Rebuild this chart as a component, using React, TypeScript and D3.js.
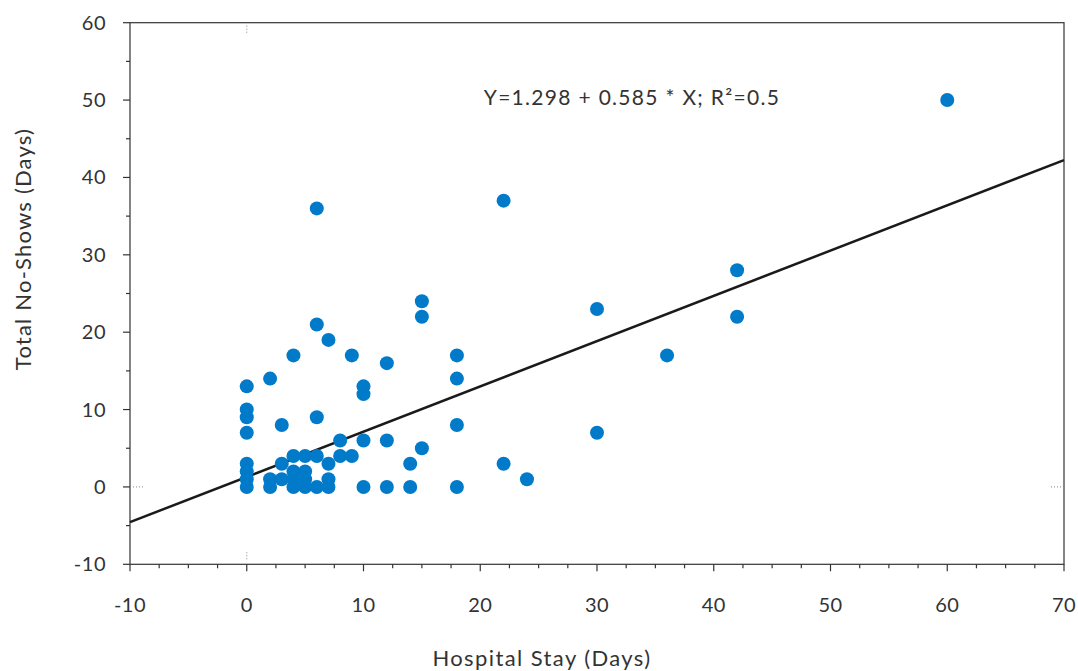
import React from "react";
import * as d3 from "d3";

const stayDays: number[] = [
  0, 0, 0, 0, 0, 0, 0, 0,
  2, 2, 2,
  3, 3, 3,
  4, 4, 4, 4, 4,
  5, 5, 5, 5,
  6, 6, 6, 6, 6,
  7, 7, 7, 7,
  8, 8,
  9, 9,
  10, 10, 10, 10,
  12, 12, 12,
  14, 14,
  15, 15, 15,
  18, 18, 18, 18,
  22, 22,
  24,
  30, 30,
  36,
  42, 42,
  60,
];
const noShowDays: number[] = [
  13, 10, 9, 7, 3, 2, 1, 0,
  14, 1, 0,
  8, 3, 1,
  17, 4, 2, 1, 0,
  4, 2, 1, 0,
  36, 21, 9, 4, 0,
  19, 3, 1, 0,
  6, 4,
  17, 4,
  13, 12, 6, 0,
  16, 6, 0,
  3, 0,
  24, 22, 5,
  17, 14, 8, 0,
  37, 3,
  1,
  23, 7,
  17,
  28, 22,
  50,
];

const xMajorTicks = [-10, 0, 10, 20, 30, 40, 50, 60, 70];
const yMajorTicks = [-10, 0, 10, 20, 30, 40, 50, 60];
const intercept = 1.298;
const slope = 0.585;
const equationText = "Y=1.298 + 0.585 * X; R²=0.5";
const xLabel = "Hospital Stay (Days)";
const yLabel = "Total No-Shows (Days)";

const W = 1078;
const H = 671;
const L = 130, R = 1064, T = 22.7, B = 564.3;
const FONT = "'Lato', 'Open Sans', sans-serif";
const AX = "#333";

export default function App() {
  const x = d3.scaleLinear().domain([-10, 70]).range([L, R]);
  const y = d3.scaleLinear().domain([-10, 60]).range([B, T]);
  const xMinor = d3.range(-10, 70.01, 2.5).filter((v) => !xMajorTicks.includes(v));
  const yMinor = d3.range(-10, 60.01, 5).filter((v) => !yMajorTicks.includes(v));
  const line = d3.line<number>().x((d) => x(d)).y((d) => y(intercept + slope * d));
  const pts = stayDays.map((d, i) => [d, noShowDays[i]] as [number, number]);

  return (
    <svg width={W} height={H} style={{ position: "absolute", left: 0, top: 0, background: "#fff" }}>
      <rect x={0} y={0} width={W} height={H} fill="#fff" />
      <rect x={L} y={T} width={R - L} height={B - T} fill="none" stroke={AX} strokeWidth={1.2} />
      <line x1={x(0)} x2={x(0)} y1={T + 3} y2={T + 10} stroke="#888" strokeDasharray="1,2" />
      <line x1={x(0)} x2={x(0)} y1={B - 12} y2={B - 4} stroke="#888" strokeDasharray="1,2" />
      <line x1={L + 3} x2={L + 13} y1={y(0)} y2={y(0)} stroke="#888" strokeDasharray="1,2" />
      <line x1={R - 13} x2={R - 3} y1={y(0)} y2={y(0)} stroke="#888" strokeDasharray="1,2" />
      {xMajorTicks.map((t) => (
        <g key={"xt" + t}>
          <line x1={x(t)} x2={x(t)} y1={B} y2={B + 7} stroke={AX} strokeWidth={1.2} />
          <text x={x(t)} y={612} textAnchor="middle" fontFamily={FONT} fontSize={20} letterSpacing={0.5} fill={AX}>
            {t}
          </text>
        </g>
      ))}
      {xMinor.map((t) => (
        <line key={"xm" + t} x1={x(t)} x2={x(t)} y1={B} y2={B + 4} stroke={AX} strokeWidth={1.2} />
      ))}
      {yMajorTicks.map((t) => (
        <g key={"yt" + t}>
          <line x1={L - 7} x2={L} y1={y(t)} y2={y(t)} stroke={AX} strokeWidth={1.2} />
          <text x={106} y={y(t) + 7} textAnchor="end" fontFamily={FONT} fontSize={20} letterSpacing={0.5} fill={AX}>
            {t}
          </text>
        </g>
      ))}
      {yMinor.map((t) => (
        <line key={"ym" + t} x1={L - 4} x2={L} y1={y(t)} y2={y(t)} stroke={AX} strokeWidth={1.2} />
      ))}
      <path d={line([-10, 70]) || ""} fill="none" stroke="#1a1a1a" strokeWidth={2.5} />
      {pts.map(([a, b], i) => (
        <circle key={i} cx={x(a)} cy={y(b)} r={7} fill="#007ac9" />
      ))}
      <text x={632} y={105} textAnchor="middle" fontFamily={FONT} fontSize={21} letterSpacing={1.3} fill={AX}>
        {equationText}
      </text>
      <text x={542} y={666} textAnchor="middle" fontFamily={FONT} fontSize={22} letterSpacing={1.4} fill={AX}>
        {xLabel}
      </text>
      <text
        transform={`translate(31, 249) rotate(-90)`}
        textAnchor="middle"
        fontFamily={FONT}
        fontSize={22}
        letterSpacing={1.2}
        fill={AX}
      >
        {yLabel}
      </text>
    </svg>
  );
}
